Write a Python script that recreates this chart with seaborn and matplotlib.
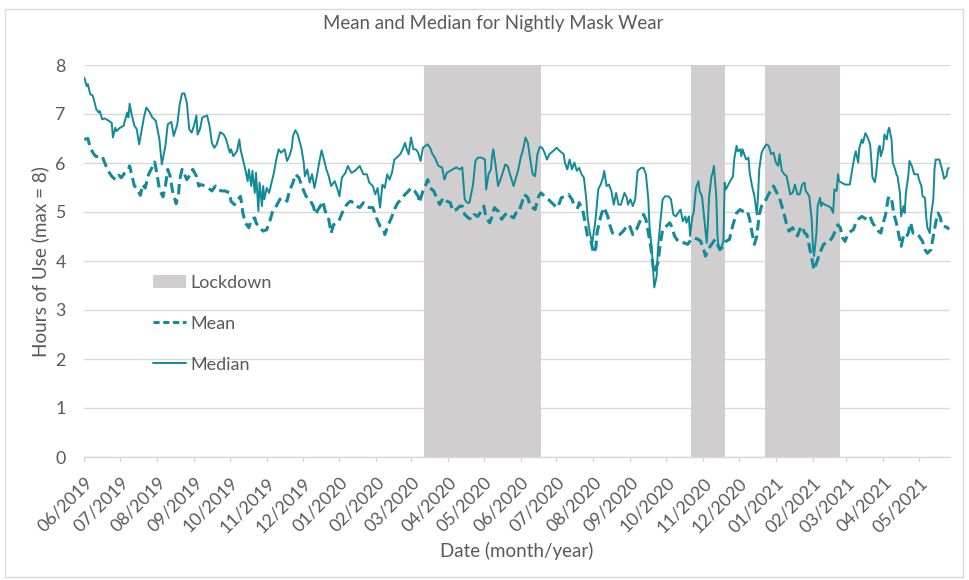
import numpy as np
import pandas as pd
import matplotlib
matplotlib.use("Agg")
import matplotlib.pyplot as plt
import matplotlib.dates as mdates
from matplotlib.patches import Patch, Rectangle
from matplotlib.lines import Line2D
import seaborn as sns

# ---------------- data (days after 2019-06-01, hours) ----------------
start_date = "2019-06-01"

median_days = [0, 2, 3, 5, 7, 9, 10, 12, 13, 15, 17, 20, 23, 24, 26, 27, 30, 33, 34, 36, 37, 38, 40, 42, 44, 46, 48, 50,
               52, 55, 57, 60, 63, 65, 68, 70, 73, 75, 78, 80, 82, 84, 86, 88, 90, 92, 94, 95, 97, 99, 103, 105, 107,
               109, 111, 114, 117, 119, 122,
               123, 125, 128, 130, 131, 133, 135, 137, 138, 140, 141, 143, 144, 146, 147, 149, 150, 151, 153, 155, 157,
               159, 161, 163, 165, 168, 170, 172, 174, 175, 177, 179, 182, 184, 185, 187, 189, 191, 193, 195, 197, 199,
               201, 203, 205, 207, 210, 212, 214, 216, 219, 221, 224, 227, 231, 234, 237, 239,
               242, 244, 246, 248, 250, 252, 254, 256, 258, 260, 262, 265, 267, 269, 270, 272, 274, 276, 278, 280, 282,
               284, 286, 288, 290, 292, 294, 297, 300, 302, 304, 307, 309, 312, 315, 317, 319, 321, 323, 326, 328, 330,
               333, 336, 337, 339, 341, 342, 343, 345, 347, 350, 353, 355, 357, 360, 362, 364,
               366, 368, 370, 372, 374, 376, 378, 380, 382, 384, 386, 388, 390, 393, 396, 399, 402, 403, 405, 407, 409,
               411, 413, 415, 417, 419, 421, 422, 424, 426, 428, 429, 431, 433, 435, 436, 438, 440, 442, 444, 446, 448,
               450, 453, 455, 456, 458, 460, 462, 464, 467, 469, 471, 473, 474, 476, 477, 478, 480, 481, 483,
               485, 487, 490, 492, 494, 496, 498, 500, 502, 504, 505, 507, 508, 510, 511, 513, 515, 516, 518, 520, 522,
               523, 524, 526, 527, 528, 530, 531, 532, 534, 536, 537, 538, 541, 544, 545, 547, 548, 550, 551, 552, 555,
               557, 558, 560, 562, 564, 565, 566, 568, 570, 572, 574, 576, 578, 580, 582, 583, 585, 587, 589, 592, 594,
               596, 598, 600, 602, 604, 605, 607,
               608, 610, 611, 612, 614, 615, 617, 618, 619, 621, 624, 626, 628, 629, 631, 632, 633, 635, 638, 640, 642,
               644, 646, 647, 649, 650, 652, 653, 655, 657, 659, 660, 661, 663, 664, 666, 667, 668, 670, 671, 673, 674,
               675, 677, 678, 680, 681, 682, 684, 685, 687, 688, 689, 691, 692, 694, 696, 699, 700, 702, 703, 705, 706,
               707, 709, 710, 712, 713, 714, 716, 717, 719, 720, 721, 723, 724, 725]
median_hours = [7.74, 7.57, 7.61, 7.40, 7.38, 7.20, 7.10, 7.03, 7.06, 6.89, 6.91, 6.87, 6.82, 6.52, 6.72, 6.65, 6.72, 6.76,
                6.86, 7.03, 6.93, 7.21, 6.96, 6.76, 6.69, 6.38, 6.65, 6.93, 7.13, 7.03, 6.93, 6.86, 6.48, 5.97, 6.35,
                6.79, 6.84, 6.55, 6.79, 7.20, 7.42, 7.42, 7.23, 6.69, 6.62, 6.76, 6.97, 6.58, 6.69, 6.93, 6.97, 6.76,
                6.41, 6.31, 6.38, 6.63, 6.58, 6.48, 6.21,
                6.28, 6.14, 6.24, 6.48, 6.28, 6.07, 5.87, 5.63, 5.87, 5.53, 5.84, 5.39, 5.80, 5.02, 5.60, 5.12, 5.53,
                5.26, 5.49, 5.39, 5.60, 5.80, 6.07, 6.28, 6.21, 6.28, 6.04, 6.14, 6.31, 6.55, 6.67, 6.58, 6.31, 6.01,
                5.73, 5.87, 5.60, 5.77, 5.49, 5.73, 6.01, 6.26, 6.07, 5.87, 5.73, 5.53, 5.63, 5.49, 5.32, 5.70, 5.80,
                5.94, 5.80, 5.84, 5.94, 5.77, 5.77, 5.60,
                5.53, 5.36, 5.49, 5.09, 5.56, 5.49, 5.77, 5.66, 5.80, 6.07, 6.11, 6.18, 6.28, 6.41, 6.31, 6.18, 6.52,
                6.28, 6.28, 6.21, 6.04, 6.31, 6.35, 6.38, 6.31, 6.18, 6.11, 5.94, 5.91, 5.66, 5.80, 5.84, 5.87, 5.91,
                5.87, 5.91, 5.26, 5.19, 5.19, 5.56, 6.04, 6.11, 6.11, 6.07, 5.46, 5.77, 5.87, 6.14, 6.28, 5.94, 5.53,
                5.73, 5.97, 5.94, 5.77, 5.53, 5.70, 5.87,
                6.11, 6.28, 6.52, 6.41, 6.07, 5.77, 5.73, 6.18, 6.33, 6.31, 6.21, 6.07, 6.18, 6.24, 6.31, 6.24, 6.18,
                6.01, 5.87, 6.07, 5.87, 6.01, 5.84, 5.90, 5.77, 5.70, 5.26, 4.91, 4.57, 4.37, 4.71, 4.91, 5.46, 5.56,
                5.70, 5.84, 5.53, 5.56, 5.43, 5.15, 5.39, 5.15, 5.15, 5.39, 5.29, 5.15, 5.26, 5.12, 5.26, 5.84, 5.90,
                5.90, 5.77, 5.26, 4.71, 4.23, 3.82, 3.46, 3.69, 4.23, 4.78,
                5.26, 5.32, 5.32, 5.26, 4.95, 4.91, 4.98, 5.05, 4.81, 4.91, 4.78, 4.91, 4.51, 4.91, 4.98, 5.49, 5.63,
                5.43, 5.32, 4.85, 4.37, 4.78, 5.32, 5.73, 5.80, 5.94, 5.32, 4.51, 4.27, 4.27, 4.40, 5.60, 5.46, 5.60,
                5.73, 6.07, 6.35, 6.24, 6.28, 6.14, 6.28, 6.07, 6.11, 5.80, 5.53, 5.32, 4.95, 5.32, 5.87, 6.21, 6.31,
                6.38, 6.35, 6.18, 6.21, 6.01, 5.94, 6.18, 5.84, 5.77, 5.73, 5.36, 5.39, 5.56, 5.36, 5.36, 5.56, 5.60,
                5.43, 5.36,
                5.32, 4.85, 4.30, 4.10, 4.57, 5.12, 5.29, 5.12, 5.19, 5.15, 5.12, 5.09, 4.98, 5.46, 5.43, 5.77, 5.63,
                5.60, 5.56, 5.56, 5.56, 5.87, 6.14, 6.24, 6.01, 6.31, 6.48, 6.41, 6.61, 6.52, 6.38, 6.07, 5.70, 5.61,
                5.77, 6.28, 6.35, 6.14, 6.31, 6.58, 6.48, 6.65, 6.72, 6.48, 6.01, 5.87, 5.77, 5.73, 5.39, 4.91, 5.12,
                4.98, 5.39, 5.73, 6.04, 5.94, 5.77, 5.77, 5.66, 5.53, 5.32, 5.29, 4.91, 4.68, 4.57, 4.91, 5.26, 5.87,
                6.07, 6.07, 6.07, 5.90, 5.80, 5.68, 5.73, 5.87, 5.90]

mean_days = [0, 3, 5, 8, 10, 13, 15, 17, 20, 23, 26, 29, 31, 34, 37, 38, 40, 42, 44, 47, 49, 51, 54, 56, 59, 61, 63, 66,
             68, 70, 72, 74, 77, 79, 80, 82, 84, 86, 89, 91, 94, 96, 98, 101, 104, 107, 110, 112, 115, 118, 122,
             123, 126, 129, 131, 133, 135, 138, 140, 143, 144, 147, 150, 153, 156, 158, 161, 164, 167, 170, 172, 175,
             177, 180, 183, 186, 189, 192, 194, 196, 198, 200, 202, 205, 207, 209, 212, 214, 217, 220, 223, 226, 228,
             231, 234, 237, 239,
             242, 245, 248, 251, 252, 255, 258, 260, 263, 266, 269, 272, 274, 277, 280, 281, 284, 286, 288, 290, 293,
             295, 298, 301, 304, 307, 309, 312, 315, 317, 319, 322, 325, 327, 330, 333, 335, 337, 340, 342, 344, 347,
             350, 353, 355, 358, 360, 362,
             364, 367, 369, 372, 374, 376, 378, 381, 383, 386, 389, 392, 395, 397, 400, 403, 406, 409, 411, 414, 415,
             418, 420, 422, 425, 427, 429, 430, 432, 434, 436, 439, 441, 443, 446, 449, 452, 455, 457, 460, 463, 466,
             469, 471, 473, 475, 477, 478, 481, 483,
             485, 488, 491, 493, 495, 498, 501, 503, 506, 509, 512, 515, 517, 519, 521, 523, 526, 529, 531, 533, 536,
             538, 541, 544, 547, 550, 552, 556, 558, 560, 562, 564, 566, 568, 571, 573, 576, 578, 580, 583, 585, 587,
             589, 591, 594, 596, 598, 600, 602, 604,
             606, 608, 610, 612, 614, 616, 618, 620, 622, 625, 627, 629, 632, 634, 636, 638, 640, 643, 645, 647, 649,
             652, 654, 656, 659, 661, 663, 666, 668, 670, 672, 674, 675, 677, 679, 681, 683, 685, 687, 689, 691, 693,
             695, 698, 700, 703, 705, 707, 710, 712, 714, 716, 718, 719, 721, 724, 725]
mean_hours = [6.48, 6.50, 6.31, 6.18, 6.13, 6.14, 6.14, 6.01, 5.84, 5.73, 5.66, 5.75, 5.70, 5.80, 5.87, 5.94, 5.73, 5.53,
              5.49, 5.34, 5.56, 5.49, 5.77, 5.87, 6.02, 5.77, 5.46, 5.31, 5.53, 5.87, 5.73, 5.43, 5.17, 5.36, 5.66,
              5.87, 5.77, 5.66, 5.77, 5.87, 5.73, 5.53, 5.56, 5.53, 5.49, 5.43, 5.53, 5.46, 5.43, 5.43, 5.39,
              5.22, 5.15, 5.26, 5.32, 4.98, 4.78, 4.68, 4.85, 4.88, 4.78, 4.68, 4.61, 4.64, 4.85, 5.02, 5.12, 5.26,
              5.29, 5.22, 5.43, 5.60, 5.77, 5.70, 5.49, 5.32, 5.26, 5.12, 4.95, 5.05, 5.12, 5.22, 5.02, 4.85, 4.57,
              4.74, 4.78, 4.85, 5.02, 5.15, 5.22, 5.19, 5.12, 5.09, 5.19, 5.12, 5.09,
              5.09, 4.88, 4.71, 4.64, 4.54, 4.74, 4.91, 5.05, 5.19, 5.26, 5.36, 5.43, 5.49, 5.43, 5.32, 5.19, 5.43,
              5.53, 5.66, 5.49, 5.43, 5.32, 5.15, 5.29, 5.22, 5.19, 5.02, 5.05, 5.12, 5.12, 4.95, 4.88, 4.85, 4.95,
              4.91, 5.02, 5.12, 4.88, 4.78, 4.91, 5.09, 5.02, 4.85, 4.95, 4.98, 4.91, 4.88, 4.98,
              4.98, 5.19, 5.36, 5.29, 5.12, 5.09, 5.05, 5.32, 5.39, 5.32, 5.26, 5.19, 5.12, 5.09, 5.29, 5.32, 5.36,
              5.26, 5.12, 5.09, 5.19, 5.05, 4.78, 4.51, 4.40, 4.16, 4.27, 4.57, 4.81, 4.98, 5.09, 4.91, 4.71, 4.57,
              4.54, 4.54, 4.61, 4.71, 4.74, 4.54, 4.64, 4.81, 4.95, 4.85, 4.57, 4.30, 3.89, 3.76, 3.96, 4.34,
              4.64, 4.71, 4.78, 4.68, 4.51, 4.40, 4.40, 4.37, 4.34, 4.44, 4.47, 4.44, 4.40, 4.27, 4.10, 4.23, 4.34,
              4.44, 4.34, 4.23, 4.30, 4.40, 4.44, 4.74, 4.98, 5.05, 5.02, 5.02, 4.85, 4.57, 4.34, 4.51, 4.95, 5.12,
              5.22, 5.32, 5.46, 5.53, 5.43, 5.29, 5.12, 4.95, 4.74, 4.61, 4.68, 4.57, 4.51, 4.64, 4.71, 4.57,
              4.54, 4.30, 4.06, 3.82, 3.96, 4.10, 4.23, 4.34, 4.37, 4.40, 4.47, 4.57, 4.74, 4.68, 4.47, 4.40, 4.54,
              4.61, 4.64, 4.78, 4.85, 4.91, 4.88, 4.85, 4.91, 4.78, 4.71, 4.61, 4.57, 4.78, 4.95, 5.26, 5.32, 5.26,
              4.95, 4.78, 4.54, 4.30, 4.51, 4.47, 4.57, 4.78, 4.57, 4.57, 4.51, 4.40, 4.23, 4.16, 4.23, 4.51, 4.78,
              4.98, 4.88, 4.74, 4.71, 4.68, 4.64]

lockdown_starts = ["2020-03-12", "2020-10-22", "2020-12-23"]
lockdown_ends = ["2020-06-18", "2020-11-19", "2021-02-24"]

x_min, x_max = "2019-06-01", "2021-05-27"
y_ticks = [0, 1, 2, 3, 4, 5, 6, 7, 8]

title = "Mean and Median for Nightly Mask Wear"
x_label = "Date (month/year)"
y_label = "Hours of Use (max = 8)"
legend_labels = ["Lockdown", "Mean", "Median"]

# ---------------- styling ----------------
teal = "#128A97"
shade = "#D0CECE"
txt = "#595959"
grid = "#D9D9D9"
FONT = ["Lato", "DejaVu Sans"]

sns.set_theme(style="white")
plt.rcParams["font.family"] = FONT

fig = plt.figure(figsize=(9.69, 5.80), dpi=100)
renderer = fig.canvas.get_renderer()
PX_PER_PT = fig.dpi / 72.0


def text_width_per_pt(s):
    """Rendered width in px of string s per point of font size."""
    t = fig.text(0, 0, s, fontsize=10)
    w = t.get_window_extent(renderer).width
    t.remove()
    return w / 10.0


# font sizes fitted to the reference's text extents (in px)
tick_size = 70.0 / text_width_per_pt("06/2019")
title_size = 340.0 / text_width_per_pt(title)
xlab_size = 153.0 / text_width_per_pt(x_label)
ylab_size = 190.0 / text_width_per_pt(y_label)
leg_size = 82.0 / text_width_per_pt(legend_labels[0])

ax = fig.add_axes([84.3 / 969, 1 - 457 / 580, (950 - 84.3) / 969, (457 - 65) / 580])

t0 = pd.Timestamp(start_date)
med_dates = t0 + pd.to_timedelta(median_days, unit="D")
mean_dates = t0 + pd.to_timedelta(mean_days, unit="D")

for s, e in zip(lockdown_starts, lockdown_ends):
    ax.axvspan(pd.Timestamp(s), pd.Timestamp(e), color=shade, lw=0, zorder=1)

sns.lineplot(x=mean_dates, y=mean_hours, ax=ax, color=teal, lw=2.2, zorder=3)
sns.lineplot(x=med_dates, y=median_hours, ax=ax, color=teal, lw=1.4, zorder=4)
ax.lines[0].set_dashes((3.4, 1.7))

ax.set_xlim(pd.Timestamp(x_min), pd.Timestamp(x_max))
ax.set_ylim(0, 8)
ax.set_yticks(y_ticks)
ax.yaxis.grid(True, color=grid, lw=1)
ax.xaxis.grid(False)
ax.set_axisbelow(True)

for sp in ["left", "right", "top"]:
    ax.spines[sp].set_visible(False)
ax.spines["bottom"].set_color(grid)
ax.spines["bottom"].set_linewidth(1)
ax.spines["bottom"].set_zorder(0.5)

ax.xaxis.set_major_locator(mdates.MonthLocator())
ax.xaxis.set_major_formatter(mdates.DateFormatter("%m/%Y"))
ax.tick_params(axis="x", which="major", bottom=True, length=3.6, color=grid, width=1,
               labelsize=tick_size, labelcolor=txt, pad=9)
ax.tick_params(axis="y", which="major", left=False, length=0, labelsize=tick_size,
               labelcolor=txt, pad=13.5)
for lab in ax.get_xticklabels():
    lab.set_rotation(45)
    lab.set_ha("right")
    lab.set_rotation_mode("anchor")

ax.set_xlabel(x_label, fontsize=xlab_size, color=txt)
ax.set_ylabel(y_label, fontsize=ylab_size, color=txt)
ax.xaxis.set_label_coords((517 - 84.3) / 865.7, (457 - 551) / 392)
ax.xaxis.label.set_va("center")
ax.yaxis.set_label_coords((40.5 - 84.3) / 865.7, (457 - 262) / 392)
ax.yaxis.label.set_va("center")

ax.set_title(title, fontsize=title_size, color=txt, x=(493 - 84.3) / 865.7, y=(457 - 32) / 392, va="center")

em = leg_size * PX_PER_PT
handles = [Patch(facecolor=shade, edgecolor="none"),
           Line2D([], [], color=teal, lw=2.2, dashes=(2.0, 1.2)),
           Line2D([], [], color=teal, lw=1.4)]
leg = ax.legend(handles, legend_labels, loc="upper left",
                bbox_to_anchor=((153 - 84.3) / 865.7, (457 - 275) / 392),
                frameon=False, fontsize=leg_size, labelcolor=txt, handlelength=33.0 / em,
                handletextpad=4.0 / em, labelspacing=41.0 / em - 0.9, borderaxespad=0, borderpad=0)

fig.patches.append(Rectangle((5 / 969, 3 / 580), 958 / 969, 568 / 580, transform=fig.transFigure,
                             fill=False, edgecolor="#D9D9D9", lw=1))

fig.savefig("out.png", dpi=100, facecolor="white")
